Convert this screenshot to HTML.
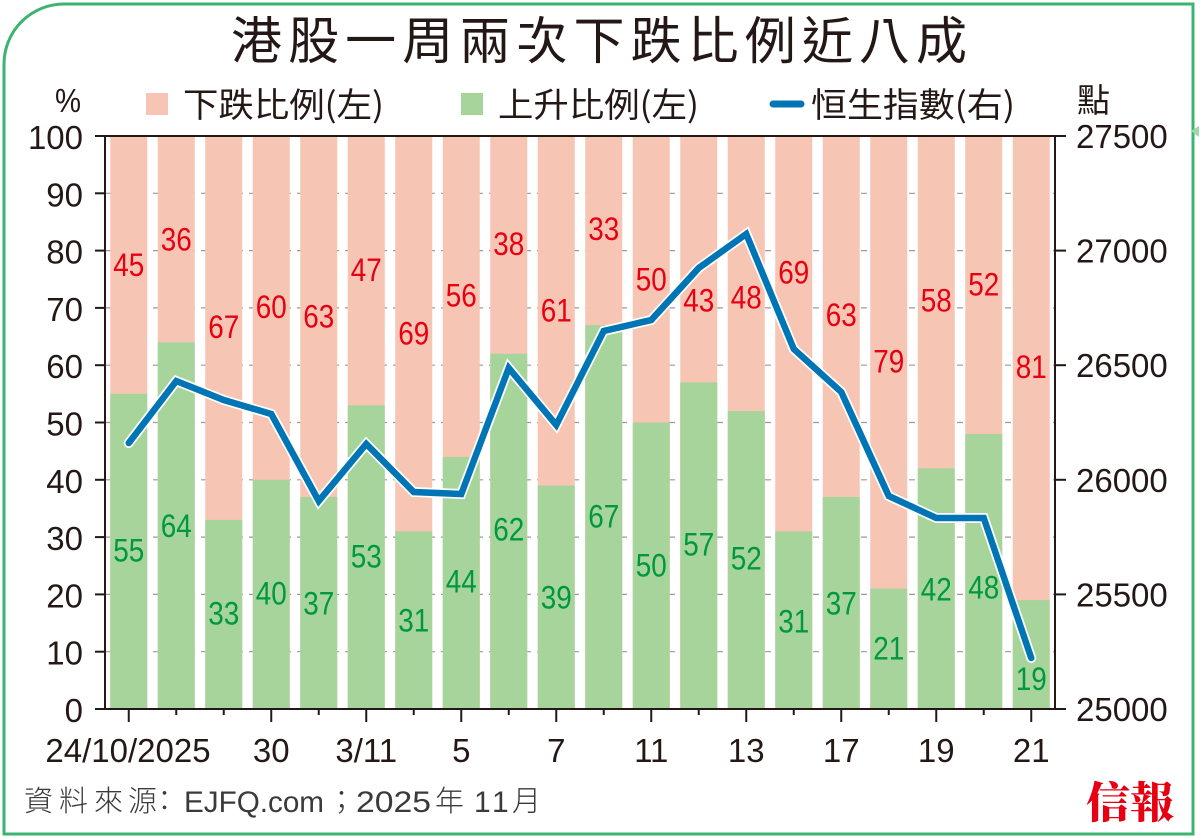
<!DOCTYPE html>
<html>
<head>
<meta charset="utf-8">
<style>
  html,body{margin:0;padding:0;background:#fff;}
  svg{display:block;}
  .cjk{font-family:"Noto Sans CJK TC","Noto Sans CJK SC",sans-serif;}
  .lat{font-family:"Liberation Sans",Arial,sans-serif;}
</style>
</head>
<body>
<svg width="1200" height="836" viewBox="0 0 1200 836" xmlns="http://www.w3.org/2000/svg">
  <rect width="1200" height="836" fill="#fff"/>
  <!-- frame -->
  <path d="M4,834 L4,64 A60,60 0 0 1 64,4 L1193,4 L1193,834 Z" fill="none" stroke="#3db370" stroke-width="3"/>
  <polygon points="1191,131 1199,126 1199,137" fill="#9fd8a8"/>

  <!-- title -->
  <text class="cjk" x="231" y="59" font-size="51" fill="#231815" textLength="736" lengthAdjust="spacing">港股一周兩次下跌比例近八成</text>

  <!-- legend -->
  <text class="lat" x="55" y="112" font-size="33" fill="#231815" textLength="26" lengthAdjust="spacingAndGlyphs">%</text>
  <rect x="146" y="93" width="22" height="22" fill="#f6c5b4"/>
  <text class="cjk" x="183" y="117" font-size="34" fill="#231815" textLength="201" lengthAdjust="spacingAndGlyphs">下跌比例(左)</text>
  <rect x="461" y="93" width="22" height="22" fill="#a7d49b"/>
  <text class="cjk" x="498" y="117" font-size="34" fill="#231815" textLength="201" lengthAdjust="spacingAndGlyphs">上升比例(左)</text>
  <line x1="773" y1="104" x2="801" y2="104" stroke="#0075b5" stroke-width="7" stroke-linecap="round"/>
  <text class="cjk" x="811" y="117" font-size="34" fill="#231815" textLength="204" lengthAdjust="spacingAndGlyphs">恒生指數(右)</text>
  <text class="cjk" x="1077" y="112" font-size="33" fill="#231815">點</text>

  <!-- gridlines -->
  <g stroke="#9a9a9a" stroke-width="1.2" stroke-dasharray="6,6">
    <line x1="105" y1="193.3" x2="1055" y2="193.3"/>
    <line x1="105" y1="250.6" x2="1055" y2="250.6"/>
    <line x1="105" y1="307.9" x2="1055" y2="307.9"/>
    <line x1="105" y1="365.2" x2="1055" y2="365.2"/>
    <line x1="105" y1="422.5" x2="1055" y2="422.5"/>
    <line x1="105" y1="479.8" x2="1055" y2="479.8"/>
    <line x1="105" y1="537.1" x2="1055" y2="537.1"/>
    <line x1="105" y1="594.4" x2="1055" y2="594.4"/>
    <line x1="105" y1="651.7" x2="1055" y2="651.7"/>
  </g>

  <!-- pink bars (full) -->
  <g fill="#f6c5b4">
    <rect x="110.25" y="136" width="37" height="573"/>
    <rect x="157.75" y="136" width="37" height="573"/>
    <rect x="205.25" y="136" width="37" height="573"/>
    <rect x="252.75" y="136" width="37" height="573"/>
    <rect x="300.25" y="136" width="37" height="573"/>
    <rect x="347.75" y="136" width="37" height="573"/>
    <rect x="395.25" y="136" width="37" height="573"/>
    <rect x="442.75" y="136" width="37" height="573"/>
    <rect x="490.25" y="136" width="37" height="573"/>
    <rect x="537.75" y="136" width="37" height="573"/>
    <rect x="585.25" y="136" width="37" height="573"/>
    <rect x="632.75" y="136" width="37" height="573"/>
    <rect x="680.25" y="136" width="37" height="573"/>
    <rect x="727.75" y="136" width="37" height="573"/>
    <rect x="775.25" y="136" width="37" height="573"/>
    <rect x="822.75" y="136" width="37" height="573"/>
    <rect x="870.25" y="136" width="37" height="573"/>
    <rect x="917.75" y="136" width="37" height="573"/>
    <rect x="965.25" y="136" width="37" height="573"/>
    <rect x="1012.75" y="136" width="37" height="573"/>
  </g>
  <!-- green bars -->
  <g fill="#a7d49b">
    <rect x="110.25" y="393.85" width="37" height="315.15"/>
    <rect x="157.75" y="342.28" width="37" height="366.72"/>
    <rect x="205.25" y="519.91" width="37" height="189.09"/>
    <rect x="252.75" y="479.8" width="37" height="229.2"/>
    <rect x="300.25" y="496.99" width="37" height="212.01"/>
    <rect x="347.75" y="405.31" width="37" height="303.69"/>
    <rect x="395.25" y="531.37" width="37" height="177.63"/>
    <rect x="442.75" y="456.88" width="37" height="252.12"/>
    <rect x="490.25" y="353.74" width="37" height="355.26"/>
    <rect x="537.75" y="485.53" width="37" height="223.47"/>
    <rect x="585.25" y="325.09" width="37" height="383.91"/>
    <rect x="632.75" y="422.5" width="37" height="286.5"/>
    <rect x="680.25" y="382.39" width="37" height="326.61"/>
    <rect x="727.75" y="411.04" width="37" height="297.96"/>
    <rect x="775.25" y="531.37" width="37" height="177.63"/>
    <rect x="822.75" y="496.99" width="37" height="212.01"/>
    <rect x="870.25" y="588.67" width="37" height="120.33"/>
    <rect x="917.75" y="468.34" width="37" height="240.66"/>
    <rect x="965.25" y="433.96" width="37" height="275.04"/>
    <rect x="1012.75" y="600.13" width="37" height="108.87"/>
  </g>

  <!-- red labels -->
  <g class="lat" font-size="32" fill="#e60012" text-anchor="middle">
    <text x="128.75" y="276" textLength="31" lengthAdjust="spacingAndGlyphs">45</text>
    <text x="176.25" y="250.6" textLength="31" lengthAdjust="spacingAndGlyphs">36</text>
    <text x="223.75" y="338" textLength="31" lengthAdjust="spacingAndGlyphs">67</text>
    <text x="271.25" y="318" textLength="31" lengthAdjust="spacingAndGlyphs">60</text>
    <text x="318.75" y="327.5" textLength="31" lengthAdjust="spacingAndGlyphs">63</text>
    <text x="366.25" y="281" textLength="31" lengthAdjust="spacingAndGlyphs">47</text>
    <text x="413.75" y="344.5" textLength="31" lengthAdjust="spacingAndGlyphs">69</text>
    <text x="461.25" y="306.5" textLength="31" lengthAdjust="spacingAndGlyphs">56</text>
    <text x="508.75" y="255" textLength="31" lengthAdjust="spacingAndGlyphs">38</text>
    <text x="556.25" y="321.5" textLength="31" lengthAdjust="spacingAndGlyphs">61</text>
    <text x="603.75" y="240" textLength="31" lengthAdjust="spacingAndGlyphs">33</text>
    <text x="651.25" y="290.5" textLength="31" lengthAdjust="spacingAndGlyphs">50</text>
    <text x="698.75" y="311.5" textLength="31" lengthAdjust="spacingAndGlyphs">43</text>
    <text x="746.25" y="308.5" textLength="31" lengthAdjust="spacingAndGlyphs">48</text>
    <text x="793.75" y="283.5" textLength="31" lengthAdjust="spacingAndGlyphs">69</text>
    <text x="841.25" y="326" textLength="31" lengthAdjust="spacingAndGlyphs">63</text>
    <text x="888.75" y="372.5" textLength="31" lengthAdjust="spacingAndGlyphs">79</text>
    <text x="936.25" y="311.5" textLength="31" lengthAdjust="spacingAndGlyphs">58</text>
    <text x="983.75" y="295.5" textLength="31" lengthAdjust="spacingAndGlyphs">52</text>
    <text x="1031.25" y="378" textLength="31" lengthAdjust="spacingAndGlyphs">81</text>
  </g>
  <!-- green labels -->
  <g class="lat" font-size="32" fill="#00983f" text-anchor="middle">
    <text x="128.75" y="561.5" textLength="31" lengthAdjust="spacingAndGlyphs">55</text>
    <text x="176.25" y="537" textLength="31" lengthAdjust="spacingAndGlyphs">64</text>
    <text x="223.75" y="624.5" textLength="31" lengthAdjust="spacingAndGlyphs">33</text>
    <text x="271.25" y="604.5" textLength="31" lengthAdjust="spacingAndGlyphs">40</text>
    <text x="318.75" y="614.5" textLength="31" lengthAdjust="spacingAndGlyphs">37</text>
    <text x="366.25" y="567.5" textLength="31" lengthAdjust="spacingAndGlyphs">53</text>
    <text x="413.75" y="631.5" textLength="31" lengthAdjust="spacingAndGlyphs">31</text>
    <text x="461.25" y="592.5" textLength="31" lengthAdjust="spacingAndGlyphs">44</text>
    <text x="508.75" y="540.5" textLength="31" lengthAdjust="spacingAndGlyphs">62</text>
    <text x="556.25" y="608.5" textLength="31" lengthAdjust="spacingAndGlyphs">39</text>
    <text x="603.75" y="527.5" textLength="31" lengthAdjust="spacingAndGlyphs">67</text>
    <text x="651.25" y="576.5" textLength="31" lengthAdjust="spacingAndGlyphs">50</text>
    <text x="698.75" y="555.5" textLength="31" lengthAdjust="spacingAndGlyphs">57</text>
    <text x="746.25" y="569.5" textLength="31" lengthAdjust="spacingAndGlyphs">52</text>
    <text x="793.75" y="632.5" textLength="31" lengthAdjust="spacingAndGlyphs">31</text>
    <text x="841.25" y="614.5" textLength="31" lengthAdjust="spacingAndGlyphs">37</text>
    <text x="888.75" y="659.5" textLength="31" lengthAdjust="spacingAndGlyphs">21</text>
    <text x="936.25" y="600.5" textLength="31" lengthAdjust="spacingAndGlyphs">42</text>
    <text x="983.75" y="598.5" textLength="31" lengthAdjust="spacingAndGlyphs">48</text>
    <text x="1031.25" y="690" textLength="31" lengthAdjust="spacingAndGlyphs">19</text>
  </g>

  <!-- HSI line -->
  <polyline fill="none" stroke="#ffffff" stroke-width="10" stroke-linejoin="miter" stroke-linecap="round"
    points="128.75,443 176.25,381 223.75,400 271.25,414 318.75,501 366.25,444 413.75,492 461.25,494 508.75,368 556.25,425 603.75,331 651.25,320 698.75,268 746.25,234 793.75,349 841.25,392 888.75,496 936.25,518 983.75,518 1031.25,658"/>
  <polyline fill="none" stroke="#0075b5" stroke-width="6.5" stroke-linejoin="miter" stroke-linecap="round"
    points="128.75,443 176.25,381 223.75,400 271.25,414 318.75,501 366.25,444 413.75,492 461.25,494 508.75,368 556.25,425 603.75,331 651.25,320 698.75,268 746.25,234 793.75,349 841.25,392 888.75,496 936.25,518 983.75,518 1031.25,658"/>

  <!-- axes -->
  <g stroke="#231815" stroke-width="2">
    <line x1="95" y1="136" x2="1066" y2="136"/>
    <line x1="95" y1="709" x2="1066" y2="709"/>
    <line x1="105" y1="136" x2="105" y2="709"/>
    <line x1="1055" y1="136" x2="1055" y2="709"/>
    <!-- left ticks -->
    <line x1="95" y1="193.3" x2="105" y2="193.3"/>
    <line x1="95" y1="250.6" x2="105" y2="250.6"/>
    <line x1="95" y1="307.9" x2="105" y2="307.9"/>
    <line x1="95" y1="365.2" x2="105" y2="365.2"/>
    <line x1="95" y1="422.5" x2="105" y2="422.5"/>
    <line x1="95" y1="479.8" x2="105" y2="479.8"/>
    <line x1="95" y1="537.1" x2="105" y2="537.1"/>
    <line x1="95" y1="594.4" x2="105" y2="594.4"/>
    <line x1="95" y1="651.7" x2="105" y2="651.7"/>
    <!-- right ticks -->
    <line x1="1055" y1="250.6" x2="1066" y2="250.6"/>
    <line x1="1055" y1="365.2" x2="1066" y2="365.2"/>
    <line x1="1055" y1="479.8" x2="1066" y2="479.8"/>
    <line x1="1055" y1="594.4" x2="1066" y2="594.4"/>
    <!-- x ticks -->
    <line x1="128.75" y1="709" x2="128.75" y2="722"/>
    <line x1="176.25" y1="709" x2="176.25" y2="715"/>
    <line x1="223.75" y1="709" x2="223.75" y2="715"/>
    <line x1="271.25" y1="709" x2="271.25" y2="722"/>
    <line x1="318.75" y1="709" x2="318.75" y2="715"/>
    <line x1="366.25" y1="709" x2="366.25" y2="722"/>
    <line x1="413.75" y1="709" x2="413.75" y2="715"/>
    <line x1="461.25" y1="709" x2="461.25" y2="722"/>
    <line x1="508.75" y1="709" x2="508.75" y2="715"/>
    <line x1="556.25" y1="709" x2="556.25" y2="722"/>
    <line x1="603.75" y1="709" x2="603.75" y2="715"/>
    <line x1="651.25" y1="709" x2="651.25" y2="722"/>
    <line x1="698.75" y1="709" x2="698.75" y2="715"/>
    <line x1="746.25" y1="709" x2="746.25" y2="722"/>
    <line x1="793.75" y1="709" x2="793.75" y2="715"/>
    <line x1="841.25" y1="709" x2="841.25" y2="722"/>
    <line x1="888.75" y1="709" x2="888.75" y2="715"/>
    <line x1="936.25" y1="709" x2="936.25" y2="722"/>
    <line x1="983.75" y1="709" x2="983.75" y2="715"/>
    <line x1="1031.25" y1="709" x2="1031.25" y2="722"/>
  </g>

  <!-- left axis labels -->
  <g class="lat" font-size="33" fill="#231815" text-anchor="end">
    <text x="83" y="149">100</text>
    <text x="83" y="206.3">90</text>
    <text x="83" y="263.6">80</text>
    <text x="83" y="320.9">70</text>
    <text x="83" y="378.2">60</text>
    <text x="83" y="435.5">50</text>
    <text x="83" y="492.8">40</text>
    <text x="83" y="550.1">30</text>
    <text x="83" y="607.4">20</text>
    <text x="83" y="664.7">10</text>
    <text x="83" y="722">0</text>
  </g>
  <!-- right axis labels -->
  <g class="lat" font-size="33" fill="#231815">
    <text x="1076" y="148">27500</text>
    <text x="1076" y="262.6">27000</text>
    <text x="1076" y="377.2">26500</text>
    <text x="1076" y="491.8">26000</text>
    <text x="1076" y="606.4">25500</text>
    <text x="1076" y="721">25000</text>
  </g>
  <!-- x labels -->
  <g class="lat" font-size="33" fill="#231815" text-anchor="middle">
    <text x="128" y="762">24/10/2025</text>
    <text x="271.25" y="762">30</text>
    <text x="366.25" y="762">3/11</text>
    <text x="461.25" y="762">5</text>
    <text x="556.25" y="762">7</text>
    <text x="651.25" y="762">11</text>
    <text x="746.25" y="762">13</text>
    <text x="841.25" y="762">17</text>
    <text x="936.25" y="762">19</text>
    <text x="1031.25" y="762">21</text>
  </g>

  <!-- footer -->
  <g fill="#3a3a3a">
    <text class="cjk" x="24" y="811" font-size="29" font-weight="300">資</text>
    <text class="cjk" x="59" y="811" font-size="29" font-weight="300">料</text>
    <text class="cjk" x="94" y="811" font-size="29" font-weight="300">來</text>
    <text class="cjk" x="128" y="811" font-size="29" font-weight="300">源</text>
    <text class="cjk" x="150" y="811" font-size="29" font-weight="300">：</text>
    <text class="lat" x="184" y="812" font-size="30" textLength="140" lengthAdjust="spacingAndGlyphs">EJFQ.com</text>
    <text class="cjk" x="327" y="811" font-size="29" font-weight="300">；</text>
    <text class="lat" x="356" y="812" font-size="30" textLength="75" lengthAdjust="spacingAndGlyphs">2025</text>
    <text class="cjk" x="435" y="811" font-size="29" font-weight="300">年</text>
    <text class="lat" x="474" y="812" font-size="30">1</text>
    <text class="lat" x="492" y="812" font-size="30">1</text>
    <text class="cjk" x="512" y="811" font-size="29" font-weight="300">月</text>
  </g>

  <!-- logo -->
  <text x="1086" y="818" font-family="'Noto Serif CJK TC','Noto Serif CJK SC',serif" font-weight="900" font-size="43" fill="#e60012" textLength="88" lengthAdjust="spacingAndGlyphs">信報</text>
</svg>
</body>
</html>
